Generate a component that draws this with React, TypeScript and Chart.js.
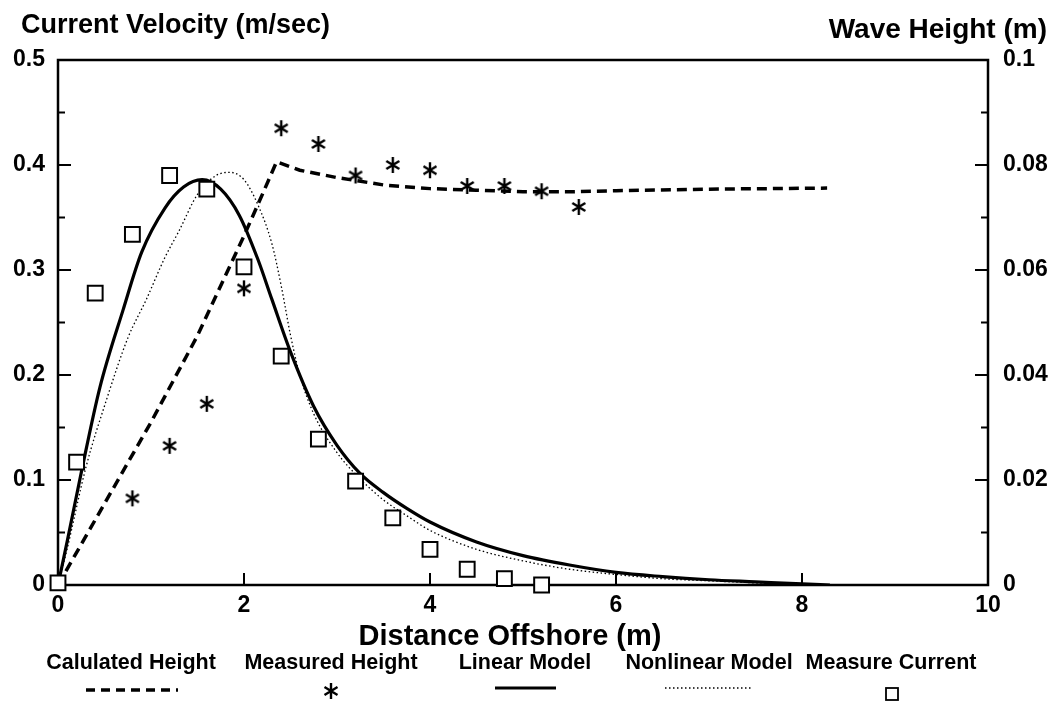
import React, { useEffect, useRef } from 'react';
import { Chart, registerables } from 'chart.js';

Chart.register(...registerables);

const FONT = '"Liberation Sans", Arial, Helvetica, sans-serif';

// ---- axis ticks ----
const distanceTicks = [0, 2, 4, 6, 8, 10];
const velocityTicks = [0, 0.1, 0.2, 0.3, 0.4, 0.5];
const heightTicks = [0, 0.02, 0.04, 0.06, 0.08, 0.1];

// ---- Calculated wave height (right axis) ----
const calcX = [0, 0.5, 1.0, 1.5, 2.0, 2.2, 2.35, 2.6, 3.0, 3.5, 4.0, 4.5, 5.0, 5.5, 6.0, 7.0, 8.27];
const calcHeight = [0, 0.0155, 0.031, 0.0475, 0.0665, 0.0745, 0.0806, 0.079, 0.0776, 0.0762, 0.0755, 0.0752, 0.0749, 0.0749, 0.0751, 0.0754, 0.0756];

// ---- Measured wave height (right axis) ----
const measHX = [0.8, 1.2, 1.6, 2.0, 2.4, 2.8, 3.2, 3.6, 4.0, 4.4, 4.8, 5.2, 5.6];
const measHeight = [0.0165, 0.0265, 0.0345, 0.0565, 0.087, 0.084, 0.078, 0.08, 0.079, 0.076, 0.076, 0.075, 0.072];

// ---- Linear model current (left axis) ----
const linX = [0, 0.1, 0.25, 0.45, 0.7, 0.9, 1.15, 1.35, 1.55, 1.75, 1.95, 2.15, 2.3, 2.5, 2.75, 3.0, 3.25, 3.5, 3.75, 4.0, 4.5, 5.0, 5.5, 6.0, 6.5, 7.0, 7.5, 8.0, 8.3];
const linearModel = [0, 0.042, 0.107, 0.188, 0.262, 0.317, 0.359, 0.379, 0.386, 0.377, 0.352, 0.31, 0.272, 0.222, 0.17, 0.133, 0.106, 0.088, 0.073, 0.06, 0.041, 0.028, 0.019, 0.012, 0.008, 0.005, 0.003, 0.001, 0];

// ---- Nonlinear model current (left axis) ----
const nonX = [0, 0.1, 0.3, 0.52, 0.75, 0.95, 1.15, 1.3, 1.5, 1.7, 1.85, 2.0, 2.15, 2.3, 2.4, 2.5, 2.6, 2.75, 3.0, 3.25, 3.5, 3.75, 4.0, 4.5, 5.0, 5.5, 6.0, 6.5, 7.0, 7.5, 8.0];
const nonlinearModel = [0, 0.035, 0.112, 0.176, 0.235, 0.272, 0.312, 0.337, 0.372, 0.39, 0.393, 0.386, 0.362, 0.325, 0.285, 0.238, 0.2, 0.163, 0.126, 0.101, 0.081, 0.066, 0.052, 0.034, 0.023, 0.015, 0.01, 0.006, 0.004, 0.002, 0];

// ---- Measured current (left axis) ----
const measCX = [0, 0.2, 0.4, 0.8, 1.2, 1.6, 2.0, 2.4, 2.8, 3.2, 3.6, 4.0, 4.4, 4.8, 5.2];
const measCurrent = [0.002, 0.117, 0.278, 0.334, 0.39, 0.377, 0.303, 0.218, 0.139, 0.099, 0.064, 0.034, 0.015, 0.006, 0];

const legendLabels = ['Calulated Height', 'Measured Height', 'Linear Model', 'Nonlinear Model', 'Measure Current'];

const pts = (xs: number[], ys: number[]) => xs.map((x, i) => ({ x, y: ys[i] }));

function makeAsterisk(): HTMLCanvasElement {
  const c = document.createElement('canvas');
  c.width = 18;
  c.height = 18;
  const g = c.getContext('2d')!;
  g.strokeStyle = '#000';
  g.lineWidth = 2.4;
  g.lineCap = 'butt';
  g.beginPath();
  g.moveTo(9, 1); g.lineTo(9, 17);
  g.moveTo(2.5, 5); g.lineTo(15.5, 13);
  g.moveTo(2.5, 13); g.lineTo(15.5, 5);
  g.stroke();
  return c;
}

export default function App() {
  const ref = useRef<HTMLCanvasElement>(null);

  useEffect(() => {
    const star = makeAsterisk();

    const decor = {
      id: 'decor',
      beforeDraw(chart: any) {
        const ctx = chart.ctx;
        ctx.save();
        ctx.fillStyle = '#fff';
        ctx.fillRect(0, 0, chart.width, chart.height);
        ctx.restore();
      },
      beforeDatasetsDraw(chart: any) {
        const { ctx, chartArea: a, scales } = chart;
        ctx.save();
        ctx.strokeStyle = '#000';
        ctx.lineWidth = 2.5;
        ctx.strokeRect(a.left, a.top, a.right - a.left, a.bottom - a.top);
        ctx.lineWidth = 2;
        ctx.beginPath();
        for (let i = 1; i < 10; i++) {
          const y = scales.y.getPixelForValue(i * 0.05);
          const len = i % 2 === 0 ? 13 : 7;
          ctx.moveTo(a.left, y); ctx.lineTo(a.left + len, y);
        }
        for (let i = 1; i < 10; i++) {
          const y = scales.y2.getPixelForValue(i * 0.01);
          const len = i % 2 === 0 ? 13 : 7;
          ctx.moveTo(a.right, y); ctx.lineTo(a.right - len, y);
        }
        for (const v of distanceTicks) {
          if (v === 0 || v === 10) continue;
          const x = scales.x.getPixelForValue(v);
          ctx.moveTo(x, a.bottom); ctx.lineTo(x, a.bottom - 12);
        }
        ctx.stroke();
        ctx.restore();
      },
      afterDraw(chart: any) {
        const { ctx } = chart;
        ctx.save();
        ctx.fillStyle = '#000';
        ctx.textBaseline = 'middle';
        ctx.font = `bold 27px ${FONT}`;
        ctx.textAlign = 'left';
        ctx.fillText('Current Velocity (m/sec)', 21, 26);
        ctx.font = `bold 28px ${FONT}`;
        ctx.textAlign = 'right';
        ctx.fillText('Wave Height (m)', 1047, 30);
        ctx.textAlign = 'center';
        ctx.font = `bold 29px ${FONT}`;
        ctx.fillText('Distance Offshore (m)', 510, 637);

        // legend
        ctx.font = `bold 21.5px ${FONT}`;
        const centers = [131, 331, 525, 709, 891];
        legendLabels.forEach((t, i) => ctx.fillText(t, centers[i], 663));
        ctx.strokeStyle = '#000';
        ctx.lineWidth = 3.5;
        ctx.setLineDash([9, 6]);
        ctx.beginPath(); ctx.moveTo(86, 690); ctx.lineTo(178, 690); ctx.stroke();
        ctx.setLineDash([]);
        ctx.drawImage(star, 331 - 9, 691 - 9);
        ctx.lineWidth = 3.2;
        ctx.beginPath(); ctx.moveTo(495, 688); ctx.lineTo(556, 688); ctx.stroke();
        ctx.lineWidth = 1.3;
        ctx.setLineDash([1.5, 2.5]);
        ctx.beginPath(); ctx.moveTo(665, 688); ctx.lineTo(752, 688); ctx.stroke();
        ctx.setLineDash([]);
        ctx.lineWidth = 1.8;
        ctx.strokeRect(886, 688, 12, 12);
        ctx.restore();
      },
    };

    const tickFont = { family: FONT, size: 23, weight: 'bold' };

    const chart = new Chart(ref.current!, {
      type: 'scatter',
      data: {
        datasets: [
          {
            label: legendLabels[4],
            data: pts(measCX, measCurrent),
            yAxisID: 'y',
            pointStyle: 'rect',
            pointRadius: 10.5,
            borderWidth: 2,
            borderColor: '#000',
            backgroundColor: '#fff',
            clip: false,
            order: 0,
          } as any,
          {
            label: legendLabels[1],
            data: pts(measHX, measHeight),
            yAxisID: 'y2',
            pointStyle: star,
            pointRadius: 9,
            borderColor: '#000',
            backgroundColor: '#000',
            clip: false,
            order: 1,
          } as any,
          {
            label: legendLabels[0],
            data: pts(calcX, calcHeight),
            yAxisID: 'y2',
            showLine: true,
            pointRadius: 0,
            borderColor: '#000',
            borderWidth: 3.5,
            borderDash: [10, 6],
            tension: 0,
            order: 3,
          } as any,
          {
            label: legendLabels[2],
            data: pts(linX, linearModel),
            yAxisID: 'y',
            showLine: true,
            pointRadius: 0,
            borderColor: '#000',
            borderWidth: 3.2,
            cubicInterpolationMode: 'monotone',
            order: 2,
          } as any,
          {
            label: legendLabels[3],
            data: pts(nonX, nonlinearModel),
            yAxisID: 'y',
            showLine: true,
            pointRadius: 0,
            borderColor: '#000',
            borderWidth: 1.3,
            borderDash: [1.5, 2.5],
            cubicInterpolationMode: 'monotone',
            order: 4,
          } as any,
        ],
      },
      options: {
        animation: false,
        responsive: false,
        devicePixelRatio: 1,
        layout: { padding: { top: 60, left: 0, right: 0, bottom: 0 } },
        plugins: { legend: { display: false }, tooltip: { enabled: false } },
        scales: {
          x: {
            type: 'linear',
            min: 0,
            max: 10,
            position: 'bottom',
            grid: { display: false, drawTicks: false },
            border: { display: false },
            afterBuildTicks: (s: any) => { s.ticks = distanceTicks.map((v) => ({ value: v })); },
            ticks: {
              color: '#000',
              padding: 7,
              maxRotation: 0,
              font: tickFont,
              callback: (v: any) => String(v),
            },
            afterFit: (s: any) => { s.height = 134; },
          },
          y: {
            type: 'linear',
            min: 0,
            max: 0.5,
            position: 'left',
            grid: { display: false, drawTicks: false },
            border: { display: false },
            afterBuildTicks: (s: any) => { s.ticks = velocityTicks.map((v) => ({ value: v })); },
            ticks: {
              color: '#000',
              padding: 13,
              font: tickFont,
              callback: (v: any) => (v === 0 ? '0' : Number(v).toFixed(1)),
            },
            afterFit: (s: any) => { s.width = 58; },
          },
          y2: {
            type: 'linear',
            min: 0,
            max: 0.1,
            position: 'right',
            grid: { display: false, drawTicks: false },
            border: { display: false },
            afterBuildTicks: (s: any) => { s.ticks = heightTicks.map((v) => ({ value: v })); },
            ticks: {
              color: '#000',
              padding: 15,
              font: tickFont,
              callback: (v: any) => (v === 0 ? '0' : String(Math.round(Number(v) * 100) / 100)),
            },
            afterFit: (s: any) => { s.width = 70; },
          },
        },
      } as any,
      plugins: [decor],
    });

    return () => chart.destroy();
  }, []);

  return (
    <div style={{ position: 'fixed', left: 0, top: 0, width: 1058, height: 719, background: '#fff' }}>
      <canvas ref={ref} width={1058} height={719} style={{ display: 'block', width: 1058, height: 719 }} />
    </div>
  );
}
